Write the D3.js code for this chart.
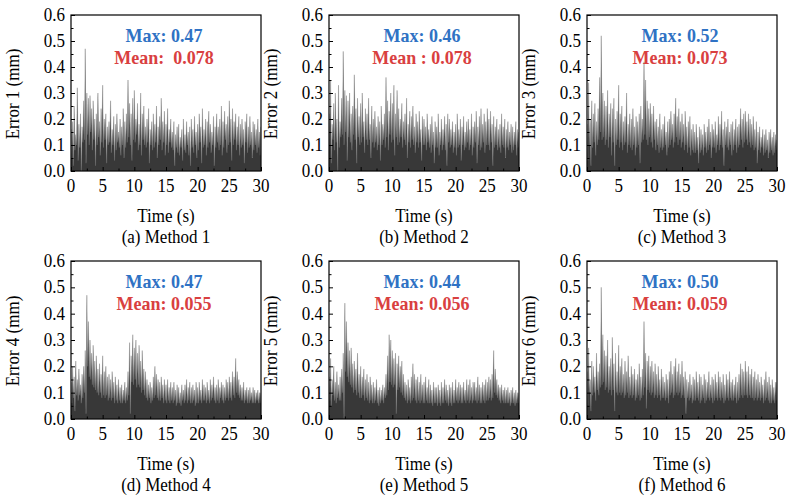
<!DOCTYPE html>
<html>
<head>
<meta charset="utf-8">
<script src="https://cdn.jsdelivr.net/npm/d3@7"></script>
<style>
	body { margin: 0; background: #fff; }
	text { font-family: "Liberation Serif", "Times New Roman", serif; }
</style>
</head>
<body>
<div id="chart"></div>
<script>
var peaks1 = [
	.16,.19,.25,.14, .32,.18,.22,.17, .27,.47,.30,.28, .29,.24,.27,.20, .22,.30,.19,.24,
	.33,.20,.22,.17, .19,.27,.16,.21, .18,.22,.15,.20, .17,.24,.19,.22, .35,.26,.22,.28,
	.31,.20,.26,.18, .30,.22,.25,.17, .20,.24,.16,.19, .22,.18,.25,.17, .21,.28,.19,.23,
	.18,.24,.16,.20, .15,.19,.14,.17, .18,.13,.16,.20, .14,.19,.15,.17, .20,.16,.21,.15,
	.18,.22,.17,.24, .16,.20,.19,.23, .18,.15,.21,.17, .22,.17,.20,.25, .19,.23,.18,.21,
	.27,.20,.24,.19, .22,.17,.21,.18, .20,.16,.19,.22, .17,.21,.15,.19, .18,.16,.20,.15, .17
];
var troughs1 = [
	.05,.02,.08,.10, .04,.09,.00,.11, .12,.03,.14,.10, .15,.08,.12,.02, .10,.13,.06,.11,
	.09,.12,.03,.10, .11,.07,.10,.04, .08,.11,.09,.06, .10,.05,.09,.11, .13,.10,.04,.12,
	.11,.14,.08,.10, .06,.12,.10,.09, .11,.03,.10,.08, .09,.11,.05,.10, .12,.08,.11,.06,
	.10,.07,.11,.09, .08,.02,.09,.07, .06,.09,.04,.08, .07,.10,.06,.02, .09,.07,.10,.05,
	.08,.11,.03,.09, .10,.06,.09,.11, .07,.10,.02,.09, .11,.08,.10,.06, .09,.12,.07,.10,
	.11,.04,.10,.12, .08,.10,.06,.09, .10,.03,.11,.07, .09,.10,.05,.08, .10,.07,.09,.06
];
var peaks2 = [
	.22,.35,.18,.26, .30,.20,.33,.19, .28,.46,.31,.29, .27,.30,.22,.25, .37,.24,.28,.21,
	.26,.30,.19,.24, .22,.28,.18,.25, .20,.23,.17,.21, .19,.25,.18,.22, .36,.27,.23,.30,
	.26,.33,.22,.31, .24,.20,.26,.19, .22,.28,.18,.23, .21,.25,.17,.22, .19,.23,.16,.21,
	.20,.17,.22,.16, .18,.21,.15,.19, .17,.22,.15,.20, .16,.21,.18,.22, .20,.16,.19,.15,
	.18,.22,.16,.20, .17,.21,.15,.19, .20,.16,.22,.17, .19,.23,.17,.21, .24,.18,.22,.19,
	.24,.20,.23,.18, .21,.17,.20,.16, .18,.22,.17,.20, .16,.19,.15,.18, .17,.15,.19,.16, .15
];
var troughs2 = [
	.10,.03,.12,.08, .11,.00,.09,.13, .14,.10,.15,.04, .13,.11,.08,.14, .12,.03,.13,.10,
	.11,.13,.07,.12, .10,.12,.05,.11, .09,.11,.08,.10, .04,.10,.12,.09, .13,.08,.14,.11,
	.12,.06,.13,.10, .11,.13,.09,.12, .10,.05,.11,.09, .12,.10,.07,.11, .09,.11,.04,.10,
	.10,.08,.11,.09, .07,.10,.03,.09, .09,.06,.10,.08, .10,.08,.02,.11, .09,.10,.07,.09,
	.06,.09,.10,.04, .10,.08,.09,.11, .08,.10,.06,.09, .11,.03,.10,.08, .09,.11,.07,.10,
	.10,.08,.11,.02, .09,.10,.08,.09, .07,.10,.09,.05, .09,.08,.10,.07, .08,.10,.06,.09
];
var peaks3 = [
	.18,.34,.20,.27, .22,.26,.19,.24, .36,.52,.30,.27, .25,.31,.22,.26, .24,.28,.20,.23,
	.33,.22,.25,.19, .21,.30,.18,.22, .20,.24,.17,.21, .19,.22,.25,.20, .42,.35,.27,.24,
	.26,.22,.25,.19, .20,.17,.22,.16, .18,.21,.15,.19, .20,.23,.18,.22, .28,.21,.24,.19,
	.22,.18,.23,.17, .19,.21,.16,.18, .15,.18,.13,.17, .16,.14,.18,.15, .17,.20,.15,.18,
	.16,.19,.14,.21, .18,.23,.16,.19, .17,.20,.15,.18, .19,.16,.20,.17, .18,.24,.20,.22,
	.23,.19,.22,.20, .18,.21,.16,.19, .15,.17,.13,.16, .14,.16,.12,.15, .16,.13,.15,.14, .12
];
var troughs3 = [
	.04,.10,.02,.09, .11,.06,.10,.12, .15,.12,.13,.10, .12,.09,.13,.06, .11,.02,.10,.12,
	.09,.11,.08,.10, .11,.07,.10,.09, .08,.10,.06,.09, .10,.03,.11,.12, .14,.12,.10,.13,
	.11,.09,.12,.08, .10,.07,.09,.08, .09,.10,.06,.09, .10,.12,.09,.11, .13,.10,.12,.09,
	.11,.08,.10,.07, .09,.06,.08,.07, .07,.08,.03,.07, .08,.06,.09,.07, .08,.10,.05,.09,
	.09,.07,.10,.08, .10,.09,.02,.10, .09,.08,.10,.06, .08,.10,.07,.09, .10,.12,.09,.11,
	.12,.10,.11,.09, .10,.08,.09,.03, .08,.07,.09,.06, .07,.08,.05,.07, .08,.06,.07,.08
];
var peaks4 = [
	.14,.20,.16,.22, .15,.19,.13,.17, .20,.26,.47,.37, .30,.25,.28,.22, .24,.19,.21,.17,
	.24,.18,.20,.16, .17,.15,.18,.14, .16,.13,.15,.12, .13,.11,.14,.12, .18,.29,.24,.32,
	.27,.30,.25,.28, .22,.26,.19,.18, .15,.13,.14,.12, .16,.20,.17,.15, .14,.16,.13,.15,
	.13,.15,.12,.14, .12,.14,.11,.13, .12,.10,.13,.11, .13,.15,.12,.14, .12,.13,.11,.14,
	.12,.14,.11,.15, .13,.12,.14,.11, .15,.13,.16,.12, .13,.15,.12,.14, .13,.12,.15,.14,
	.16,.14,.18,.16, .23,.18,.15,.13, .12,.14,.11,.12, .11,.12,.10,.12, .11,.10,.11,.10, .10
];
var troughs4 = [
	.06,.08,.03,.09, .07,.09,.06,.08, .10,.02,.20,.16, .15,.13,.12,.11, .10,.09,.10,.08,
	.09,.08,.09,.07, .08,.07,.08,.06, .07,.06,.07,.06, .06,.07,.06,.07, .09,.02,.14,.13,
	.15,.12,.13,.12, .10,.11,.09,.08, .07,.08,.06,.07, .08,.09,.08,.07, .07,.08,.06,.07,
	.06,.07,.06,.07, .06,.07,.05,.06, .06,.05,.07,.06, .07,.06,.07,.06, .06,.07,.05,.06,
	.06,.07,.06,.07, .07,.06,.07,.06, .07,.08,.07,.06, .07,.06,.08,.07, .06,.07,.08,.07,
	.08,.07,.09,.08, .10,.09,.08,.07, .07,.06,.07,.06, .06,.07,.06,.06, .06,.07,.06,.06
];
var peaks5 = [
	.16,.23,.15,.20, .14,.18,.13,.16, .19,.25,.44,.37, .29,.26,.27,.21, .22,.19,.25,.17,
	.20,.16,.19,.15, .17,.14,.16,.13, .14,.12,.15,.11, .12,.11,.13,.12, .17,.24,.32,.30,
	.26,.23,.25,.21, .24,.20,.22,.17, .14,.13,.15,.12, .16,.21,.17,.15, .16,.14,.17,.13,
	.14,.16,.12,.15, .13,.11,.14,.12, .12,.13,.11,.14, .12,.15,.13,.11, .13,.12,.14,.11,
	.15,.12,.14,.13, .12,.14,.11,.15, .13,.15,.12,.14, .14,.12,.16,.13, .12,.14,.13,.15,
	.14,.16,.15,.17, .26,.19,.15,.13, .12,.13,.11,.12, .11,.12,.10,.11, .12,.10,.11,.10, .10
];
var troughs5 = [
	.07,.05,.09,.07, .06,.08,.07,.07, .10,.00,.18,.16, .14,.13,.12,.10, .11,.09,.10,.08,
	.08,.09,.07,.08, .07,.06,.07,.06, .06,.07,.06,.05, .06,.07,.06,.08, .09,.11,.14,.13,
	.12,.13,.02,.11, .12,.10,.09,.08, .07,.06,.07,.06, .07,.08,.07,.06, .07,.06,.07,.06,
	.06,.07,.06,.06, .06,.05,.06,.06, .05,.06,.05,.06, .06,.07,.06,.05, .06,.05,.06,.06,
	.07,.06,.07,.06, .06,.07,.06,.07, .06,.07,.06,.07, .07,.06,.07,.06, .06,.07,.06,.07,
	.07,.08,.07,.08, .10,.09,.08,.07, .06,.07,.06,.06, .06,.06,.05,.06, .06,.05,.06,.06
];
var peaks6 = [
	.18,.27,.15,.22, .20,.16,.25,.18, .21,.50,.32,.26, .24,.30,.20,.23, .31,.21,.25,.18,
	.28,.20,.23,.17, .22,.18,.24,.16, .20,.17,.19,.15, .17,.21,.16,.19, .37,.25,.22,.24,
	.20,.22,.18,.21, .17,.20,.15,.19, .16,.14,.17,.15, .18,.22,.17,.20, .23,.18,.21,.17,
	.22,.16,.18,.15, .14,.17,.13,.16, .15,.18,.14,.17, .16,.13,.17,.15, .14,.18,.13,.16,
	.15,.17,.14,.18, .16,.14,.17,.13, .17,.15,.18,.14, .15,.13,.16,.14, .17,.21,.19,.18,
	.22,.18,.20,.17, .19,.16,.18,.15, .17,.14,.16,.13, .15,.18,.14,.16, .13,.15,.12,.14, .14
];
var troughs6 = [
	.05,.10,.03,.09, .10,.07,.11,.09, .12,.13,.14,.11, .12,.10,.11,.09, .11,.03,.10,.09,
	.10,.09,.10,.08, .09,.10,.08,.09, .08,.09,.07,.08, .09,.07,.08,.09, .12,.04,.11,.10,
	.09,.10,.08,.09, .08,.09,.07,.08, .08,.07,.08,.06, .09,.10,.08,.09, .10,.09,.10,.08,
	.09,.08,.02,.08, .07,.08,.06,.07, .07,.08,.07,.06, .07,.08,.06,.07, .08,.07,.08,.06,
	.07,.08,.07,.08, .07,.08,.06,.07, .08,.07,.08,.07, .07,.08,.06,.07, .08,.09,.08,.09,
	.09,.08,.09,.08, .08,.07,.08,.07, .08,.07,.08,.06, .07,.08,.07,.06, .06,.07,.06,.07
];

var yTitles = ["Error 1 (mm)", "Error 2 (mm)", "Error 3 (mm)", "Error 4 (mm)", "Error 5 (mm)", "Error 6 (mm)"];
var captions = ["(a) Method 1", "(b) Method 2", "(c) Method 3", "(d) Method 4", "(e) Method 5", "(f) Method 6"];
var maxLabels = ["Max: 0.47", "Max: 0.46", "Max: 0.52", "Max: 0.47", "Max: 0.44", "Max: 0.50"];
var meanLabels = ["Mean:  0.078", "Mean : 0.078", "Mean: 0.073", "Mean: 0.055", "Mean: 0.056", "Mean: 0.059"];
var xTicks = [0, 5, 10, 15, 20, 25, 30];
var yTicks = [0, 0.1, 0.2, 0.3, 0.4, 0.5, 0.6];

var series = [[peaks1, troughs1], [peaks2, troughs2], [peaks3, troughs3],
	[peaks4, troughs4], [peaks5, troughs5], [peaks6, troughs6]];

// plot frames (left, top, height)
var lefts = [71, 329, 587];
var tops = [15, 261];
var heights = [156, 158];
var plotW = 190;
var stretchY = 1.1; // text in the source figure is a bit taller than normal

var svg = d3.select("#chart")
	.append("svg")
	.attr("width", 788)
	.attr("height", 500);

function label(g, x, y, str, anchor, size, rot) {
	return g.append("text")
		.attr("transform", "translate(" + x + "," + y + ")" + (rot ? " rotate(" + rot + ")" : "") +
			" scale(1," + stretchY + ")")
		.attr("text-anchor", anchor)
		.style("font-size", size + "px")
		.style("white-space", "pre")
		.text(str);
}

series.forEach(function (s, k) {
	var col = k % 3, row = Math.floor(k / 3);
	var w = plotW, h = heights[row];
	var g = svg.append("g")
		.attr("transform", "translate(" + lefts[col] + "," + tops[row] + ")");

	var x = d3.scaleLinear().domain([0, 30]).range([0, w]);
	var y = d3.scaleLinear().domain([0, 0.6]).range([h, 0]);

	var pts = [];
	s[0].forEach(function (v, i) {
		pts.push([i * 0.25, v]);
		if (i < s[1].length) pts.push([i * 0.25 + 0.125, s[1][i]]);
	});

	g.append("clipPath")
		.attr("id", "clip" + k)
		.append("rect")
		.attr("width", w)
		.attr("height", h);

	var area = d3.area()
		.x(function (d) { return x(d[0]); })
		.y0(h)
		.y1(function (d) { return y(d[1]); });

	g.append("path")
		.datum(pts)
		.attr("clip-path", "url(#clip" + k + ")")
		.attr("d", area)
		.style("fill", "#383838")
		.style("stroke", "#777")
		.style("stroke-width", 0.4);

	// axes with inward ticks
	var xAxis = g.append("g")
		.attr("transform", "translate(0," + h + ")")
		.call(d3.axisBottom(x).tickValues(d3.range(0, 30.1, 2.5)).tickSize(-3).tickFormat(""));
	xAxis.selectAll(".tick line")
		.attr("y2", function (d) { return d % 5 === 0 ? -4 : -2.5; });
	xAxis.select(".domain").remove();

	var yAxis = g.append("g")
		.call(d3.axisLeft(y).tickValues(d3.range(0, 0.601, 0.05)).tickSize(-3).tickFormat(""));
	yAxis.selectAll(".tick line")
		.attr("x2", function (d, i) { return i % 2 === 0 ? 4 : 2.5; });
	yAxis.select(".domain").remove();

	g.append("rect")
		.attr("width", w)
		.attr("height", h)
		.style("fill", "none")
		.style("stroke", "#000")
		.style("stroke-width", 1.2);

	xTicks.forEach(function (d) {
		label(g, x(d), h + 21, d, "middle", 17);
	});
	yTicks.forEach(function (d) {
		label(g, -6, y(d) + 6, d3.format(".1f")(d), "end", 17);
	});

	label(g, -52, h / 2 + 1, yTitles[k], "middle", 17, -90);
	label(g, w / 2, h + 51, "Time (s)", "middle", 17);
	label(g, w / 2, h + 72, captions[k], "middle", 17);

	label(g, w / 2 - 2, 27, maxLabels[k], "middle", 18)
		.style("font-weight", "bold")
		.style("fill", "#2f72c4");
	label(g, w / 2 - 2, 49, meanLabels[k], "middle", 18)
		.style("font-weight", "bold")
		.style("fill", "#d9403f");
});
</script>
</body>
</html>
